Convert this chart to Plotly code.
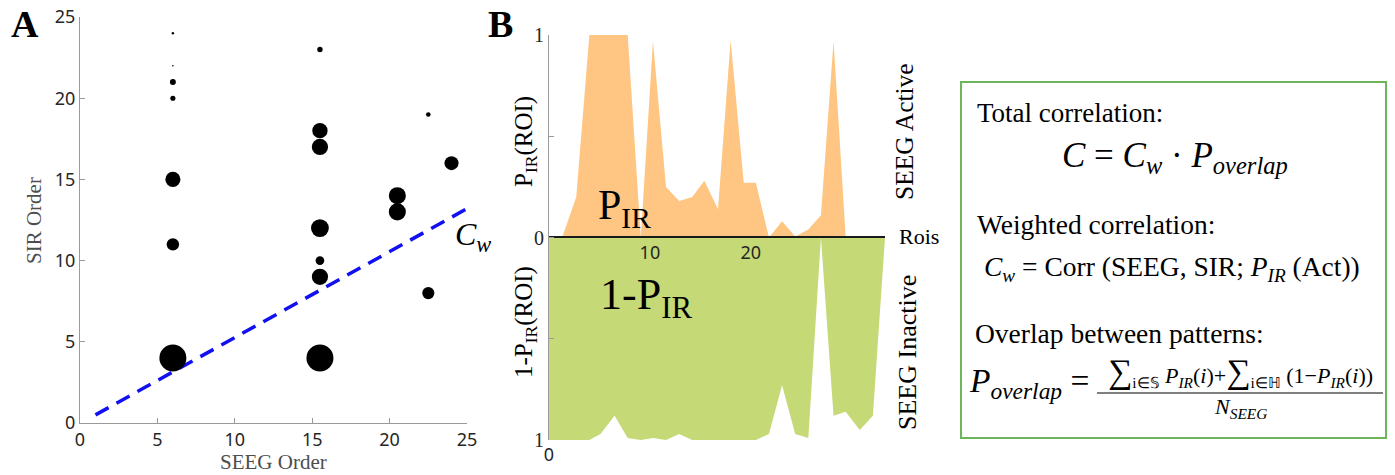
import plotly.graph_objects as go

W, H = 1395, 475

# ---- Panel A: SEEG order vs SIR order, marker size = weight ----
seeg_order = [6, 6, 6, 6, 6, 6, 6,
              15.5, 15.5, 15.5, 15.5, 15.5, 15.5, 15.5,
              20.5, 20.5, 22.5, 22.5, 24]
sir_order = [24, 22, 21, 20, 15, 11, 4,
             23, 18, 17, 12, 10, 9, 4,
             14, 13, 19, 8, 16]
point_weight = [0.09, 0.06, 0.22, 0.19, 0.56, 0.46, 1.0,
                0.2, 0.57, 0.6, 0.66, 0.32, 0.6, 1.0,
                0.63, 0.63, 0.17, 0.45, 0.52]
fit_x = [1, 25]
fit_y = [0.5, 13.2]

# ---- Panel B: per-ROI activation probability ----
roi_pos = [0, 1.3, 2.7, 4.0, 5.1, 6.5, 7.8, 9.1, 10.3, 11.6, 12.9, 14.2, 15.4,
           16.75, 18.0, 19.3, 20.5, 21.8, 23.1, 24.4, 25.7, 26.95, 28.2, 29.4,
           30.8, 32.1, 33.3]
p_ir_active = [0, 0, 0.2, 1, 1, 1, 1, 0.0, 0.97, 0.25, 0.18, 0.2, 0.28,
               0.14, 0.975, 0.27, 0.27, 0, 0.08, 0.005, 0.04, 0.11, 0.97, 0.005,
               0.002, 0, 0]
one_minus_p_inactive = [1, 1, 1, 1, 0.97, 0.88, 0.99, 1.0, 0.99, 1.0, 0.97, 1.0, 1.0,
                        1.0, 1.0, 1.0, 1.0, 0.97, 0.73, 0.97, 0.99, 0, 0.88, 0.86,
                        0.95, 0.88, 0]
b_xticks = [10, 20]

SERIF = "Liberation Serif"
SANS = "Noto Sans"
ORANGE = "#FEC682"
GREEN = "#C5D976"


def px_x(p):
    return p / W


def px_y(p):
    return 1 - p / H


fig = go.Figure()

# Panel A scatter
fig.add_trace(go.Scatter(
    x=fit_x, y=fit_y, mode="lines",
    line=dict(color="#1010F0", width=3.5, dash="15px,9px"),
    xaxis="x", yaxis="y", showlegend=False, hoverinfo="skip"))
fig.add_trace(go.Scatter(
    x=seeg_order, y=sir_order, mode="markers",
    marker=dict(size=[27 * w for w in point_weight], color="black",
                opacity=1, line=dict(width=0)),
    xaxis="x", yaxis="y", showlegend=False))

# Panel B areas
fig.add_trace(go.Scatter(
    x=roi_pos, y=p_ir_active, mode="lines", fill="tozeroy",
    fillcolor=ORANGE, line=dict(width=0, color=ORANGE),
    xaxis="x2", yaxis="y2", showlegend=False))
fig.add_trace(go.Scatter(
    x=roi_pos, y=[-v for v in one_minus_p_inactive], mode="lines", fill="tozeroy",
    fillcolor=GREEN, line=dict(width=0, color=GREEN),
    xaxis="x2", yaxis="y2", showlegend=False))
# carrier for the middle ROI axis
fig.add_trace(go.Scatter(
    x=[roi_pos[0]], y=[0], mode="markers", marker=dict(opacity=0),
    xaxis="x3", yaxis="y2", showlegend=False, hoverinfo="skip"))

axis_gray = "#9a9a9a"

fig.update_layout(
    width=W, height=H,
    margin=dict(l=0, r=0, t=0, b=0, autoexpand=False),
    paper_bgcolor="white", plot_bgcolor="rgba(0,0,0,0)",
    xaxis=dict(
        domain=[px_x(80), px_x(467)], range=[0, 25],
        tickvals=[0, 5, 10, 15, 20, 25], ticks="inside", ticklen=5,
        tickcolor=axis_gray, showline=True, linecolor=axis_gray, linewidth=1,
        showgrid=False, zeroline=False,
        tickfont=dict(family=SANS, size=18, color="#262626"), anchor="y"),
    yaxis=dict(
        domain=[px_y(423), px_y(17)], range=[0, 25],
        tickvals=[0, 5, 10, 15, 20, 25], ticks="inside", ticklen=5,
        tickcolor=axis_gray, showline=True, linecolor=axis_gray, linewidth=1,
        showgrid=False, zeroline=False,
        tickfont=dict(family=SANS, size=18, color="#262626"), anchor="x"),
    xaxis2=dict(
        domain=[px_x(549), px_x(885)], range=[0, 33.3],
        tickvals=[0], ticktext=["0"], ticks="", showline=False,
        showgrid=False, zeroline=False, ticklabelstandoff=2,
        tickfont=dict(family=SANS, size=18, color="#262626"), anchor="y2"),
    xaxis3=dict(
        domain=[px_x(549), px_x(885)], range=[0, 33.3],
        overlaying="x2", anchor="free", position=px_y(237),
        tickvals=b_xticks, ticks="", showline=True, linecolor="#1a1a1a",
        linewidth=1.5, showgrid=False, zeroline=False,
        tickfont=dict(family=SANS, size=18, color="#262626")),
    yaxis2=dict(
        domain=[px_y(440), px_y(35)], range=[-1, 1],
        tickvals=[-1, -0.5, 0, 0.5, 1], ticktext=["1", "", "0", "", "1"],
        ticks="inside", ticklen=5, tickcolor=axis_gray,
        showline=True, linecolor=axis_gray, linewidth=1,
        showgrid=False, zeroline=False,
        tickfont=dict(family=SERIF, size=20, color="#262626"), anchor="x2"),
)

ann = []


def text(x, y, s, size, family=SERIF, color="black", xanchor="left",
         yanchor="middle", angle=0):
    ann.append(dict(x=px_x(x), y=px_y(y), xref="paper", yref="paper",
                    text=s, showarrow=False, xanchor=xanchor, yanchor=yanchor,
                    textangle=angle, font=dict(family=family, size=size, color=color)))


# Panel letters
text(9, 24, "<b>A</b>", 38, xanchor="left")
text(486, 24, "<b>B</b>", 38, xanchor="left")

# Panel A labels
text(273, 462, "SEEG Order", 21, color="#4d4d4d", xanchor="center")
text(34, 221, "SIR Order", 21, color="#4d4d4d", xanchor="center", angle=-90)
text(453, 236, "<i>C</i><sub><i>w</i></sub>", 32, xanchor="left")

# Panel B labels
text(525, 142, "P<sub>IR</sub>(ROI)", 25, xanchor="center", angle=-90)
text(525, 322, "1-P<sub>IR</sub>(ROI)", 25, xanchor="center", angle=-90)
text(905, 132, "SEEG Active", 25.5, xanchor="center", angle=-90)
text(907, 353, "SEEG Inactive", 26, xanchor="center", angle=-90)
text(897, 237, "Rois", 22, xanchor="left")
text(596, 208, "P<sub>IR</sub>", 42, xanchor="left")
text(598, 297, "1-P<sub>IR</sub>", 44, xanchor="left")

# Formula box
text(975, 113, "Total correlation:", 27)
text(1175, 158, "<i>C</i> = <i>C</i><sub><i>w</i></sub> · <i>P</i><sub><i>overlap</i></sub>",
     35, xanchor="center")
text(975, 225, "Weighted correlation:", 27.5)
text(982, 268, "<i>C</i><sub><i>w</i></sub> = Corr (SEEG, SIR; <i>P</i><sub><i>IR</i></sub> (Act))",
     27.5, xanchor="left")
text(973, 333, "Overlap between patterns:", 27.5)
text(967, 383, "<i>P</i><sub><i>overlap</i></sub> =", 33.5, xanchor="left")
text(1240, 372,
     "<span style='font-size:34px'>∑</span><sub>i∈𝕊</sub> <i>P</i><sub><i>IR</i></sub>(<i>i</i>)+"
     "<span style='font-size:34px'>∑</span><sub>i∈ℍ</sub> (1−<i>P</i><sub><i>IR</i></sub>(<i>i</i>))",
     22, xanchor="center")
text(1240, 408, "<i>N</i><sub><i>SEEG</i></sub>", 22, xanchor="center")

fig.update_layout(annotations=ann)

fig.update_layout(shapes=[
    dict(type="rect", xref="paper", yref="paper",
         x0=px_x(961), x1=px_x(1386), y0=px_y(438), y1=px_y(82),
         line=dict(color="#6DB55A", width=2), fillcolor="rgba(0,0,0,0)"),
    dict(type="line", xref="paper", yref="paper",
         x0=px_x(1097), x1=px_x(1383), y0=px_y(393), y1=px_y(393),
         line=dict(color="black", width=1)),
])

fig.write_html("out.html")
